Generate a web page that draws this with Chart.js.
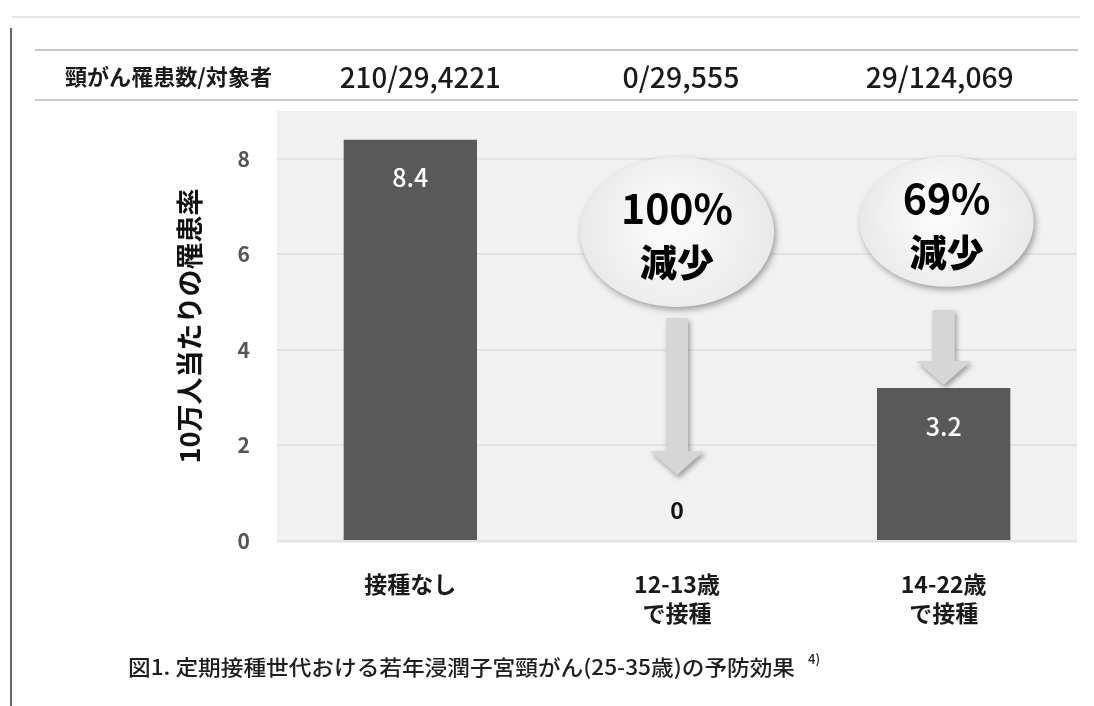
<!DOCTYPE html>
<html lang="ja">
<head>
<meta charset="utf-8">
<script src="https://cdn.jsdelivr.net/npm/chart.js@4/dist/chart.umd.min.js"></script>
<style>
  html, body { margin: 0; padding: 0; background: #fff; }
  #wrap { width: 1094px; height: 706px; position: relative; }
</style>
</head>
<body>
<div id="wrap"><canvas id="rateChart"></canvas></div>
<script>
// カテゴリと値
const categories = [['接種なし'], ['12-13歳', 'で接種'], ['14-22歳', 'で接種']];
const rates = [8.4, 0, 3.2];
const caseCounts = ['210/29,4221', '0/29,555', '29/124,069'];
const reductionPct = [null, '100%', '69%'];
const yTicks = [0, 2, 4, 6, 8];

const FONT = '"Noto Sans CJK JP", "Noto Sans", sans-serif';

// 指定幅に合わせて横方向だけ伸縮して描く
function fitText(ctx, text, x, y, align, font, width) {
  ctx.save();
  ctx.font = font;
  const sx = width / ctx.measureText(text).width;
  ctx.translate(x, y);
  ctx.scale(sx, 1);
  ctx.textAlign = align;
  ctx.fillText(text, 0, 0);
  ctx.restore();
}

// 上部の表・注釈・吹き出し・矢印
const decorations = {
  id: 'decorations',
  beforeDraw(chart) {
    const { ctx, chartArea } = chart;
    ctx.save();
    ctx.fillStyle = '#fff';
    ctx.fillRect(0, 0, chart.width, chart.height);
    // 枠
    ctx.strokeStyle = '#e6e6e6';
    ctx.lineWidth = 2;
    ctx.beginPath(); ctx.moveTo(12, 17); ctx.lineTo(1080, 17); ctx.stroke();
    ctx.strokeStyle = '#666';
    ctx.beginPath(); ctx.moveTo(11, 28); ctx.lineTo(11, 706); ctx.stroke();
    // グラフ背景
    ctx.fillStyle = '#f1f1f1';
    ctx.fillRect(chartArea.left, chartArea.top, chartArea.right - chartArea.left, chartArea.bottom - chartArea.top + 2);
    ctx.restore();
  },
  afterDatasetsDraw(chart) {
    const { ctx } = chart;
    const xs = chart.scales.x, ys = chart.scales.y;
    const meta = chart.getDatasetMeta(0);
    ctx.save();

    // 表の罫線と行
    ctx.strokeStyle = '#c8c8c8';
    ctx.lineWidth = 2;
    [50, 100].forEach(y => {
      ctx.beginPath(); ctx.moveTo(35, y); ctx.lineTo(1078, y); ctx.stroke();
    });
    ctx.fillStyle = '#1a1a1a';
    ctx.textBaseline = 'middle';
    fitText(ctx, '頸がん罹患数/対象者', 65, 77, 'left', 'bold 22px ' + FONT, 207);
    const countWidths = [161, 117, 148];
    const countShift = [10, 4, -4];
    caseCounts.forEach((t, i) => {
      fitText(ctx, t, xs.getPixelForValue(i) + countShift[i], 77, 'center', '500 28px ' + FONT, countWidths[i]);
    });

    // 値ラベル
    meta.data.forEach((bar, i) => {
      const v = rates[i];
      ctx.textAlign = 'center';
      if (v > 0) {
        ctx.fillStyle = '#fff';
        ctx.font = '500 25px ' + FONT;
        ctx.fillText(v.toFixed(1), bar.x, bar.y + 38);
      } else {
        ctx.fillStyle = '#111';
        ctx.font = 'bold 23px ' + FONT;
        ctx.fillText(String(v), bar.x, bar.y - 31);
      }
    });

    // 矢印と吹き出し
    const bubbles = [null,
      { y: 6.47, dx: 0, rx: 97, ry: 75, top: 318, tip: 475 },
      { y: 6.68, dx: 3, rx: 87, ry: 65, top: 310, tip: 385 }];
    bubbles.forEach((b, i) => {
      if (!b) return;
      const cx = xs.getPixelForValue(i) + b.dx;
      const ax = xs.getPixelForValue(i);
      const cy = ys.getPixelForValue(b.y);
      const sw = 11, hw = 27, hh = 24;
      // 矢印
      ctx.save();
      ctx.shadowColor = 'rgba(0,0,0,0.35)';
      ctx.shadowBlur = 5;
      ctx.shadowOffsetX = 2;
      ctx.shadowOffsetY = 3;
      ctx.fillStyle = '#d6d6d6';
      ctx.beginPath();
      ctx.moveTo(ax - sw, b.top);
      ctx.lineTo(ax + sw, b.top);
      ctx.lineTo(ax + sw, b.tip - hh);
      ctx.lineTo(ax + hw, b.tip - hh);
      ctx.lineTo(ax, b.tip);
      ctx.lineTo(ax - hw, b.tip - hh);
      ctx.lineTo(ax - sw, b.tip - hh);
      ctx.closePath();
      ctx.fill();
      ctx.restore();
      // 吹き出し
      ctx.save();
      ctx.shadowColor = 'rgba(0,0,0,0.35)';
      ctx.shadowBlur = 6;
      ctx.shadowOffsetX = 2;
      ctx.shadowOffsetY = 3;
      const g = ctx.createRadialGradient(cx - 10, cy - 15, 10, cx, cy, b.rx);
      g.addColorStop(0, '#fbfbfb');
      g.addColorStop(1, '#e9e9e9');
      ctx.fillStyle = g;
      ctx.beginPath();
      ctx.ellipse(cx, cy, b.rx, b.ry, 0, 0, Math.PI * 2);
      ctx.fill();
      ctx.restore();
      ctx.fillStyle = '#000';
      ctx.textAlign = 'center';
      ctx.font = 'bold 41px ' + FONT;
      ctx.fillText(reductionPct[i], cx, cy - 23);
      ctx.font = '900 37px ' + FONT;
      ctx.fillText('減少', cx, cy + 31);
    });

    // 図のタイトル
    ctx.fillStyle = '#1e1e1e';
    fitText(ctx, '図1. 定期接種世代おける若年浸潤子宮頸がん(25-35歳)の予防効果', 128, 667, 'left', '500 21px ' + FONT, 667);
    ctx.font = '500 13px ' + FONT;
    ctx.textAlign = 'left';
    ctx.fillText('4)', 808, 659);
    ctx.restore();
  }
};

new Chart(document.getElementById('rateChart'), {
  type: 'bar',
  data: {
    labels: categories,
    datasets: [{
      data: rates,
      backgroundColor: '#595959',
      borderWidth: 0,
      barPercentage: 0.5,
      categoryPercentage: 1
    }]
  },
  options: {
    responsive: true,
    maintainAspectRatio: false,
    animation: false,
    layout: { padding: { top: 111, right: 17, bottom: 0, left: 174 } },
    plugins: { legend: { display: false }, tooltip: { enabled: false } },
    scales: {
      x: {
        grid: { display: false, drawTicks: false },
        border: { display: false },
        ticks: {
          color: '#1a1a1a',
          padding: 29,
          font: { family: FONT, size: 23, weight: 'bold', lineHeight: 1.26 }
        },
        afterFit(scale) { scale.height = 165; }
      },
      y: {
        min: 0,
        max: 9,
        afterBuildTicks(scale) { scale.ticks = yTicks.map(v => ({ value: v })); },
        grid: { color: '#e3e3e3', lineWidth: 2, drawTicks: false },
        border: { display: false },
        ticks: {
          color: '#555',
          padding: 27,
          font: { family: FONT, size: 21, weight: 'bold' }
        },
        title: {
          display: true,
          text: '10万人当たりの罹患率',
          color: '#111',
          padding: 0,
          font: { family: FONT, size: 27, weight: 'bold' }
        },
        afterFit(scale) { scale.width = 103; }
      }
    }
  },
  plugins: [decorations]
});
</script>
</body>
</html>
